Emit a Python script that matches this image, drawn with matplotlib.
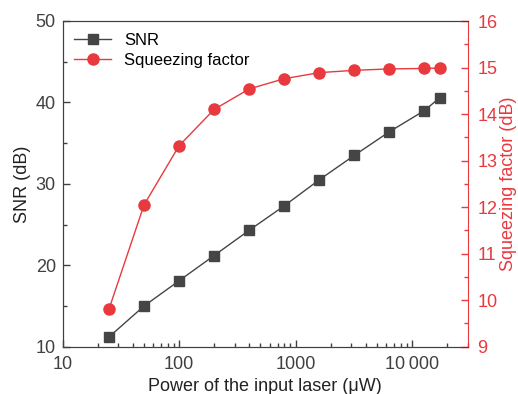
import numpy as np
import matplotlib.pyplot as plt
from matplotlib.ticker import MultipleLocator, LogLocator, NullFormatter, FuncFormatter

plt.rcParams['font.family'] = ['Liberation Sans', 'DejaVu Sans']

power = [25, 50, 100, 200, 400, 800, 1600, 3200, 6400, 12800, 17400]
snr = [11.2, 15.0, 18.1, 21.2, 24.3, 27.3, 30.5, 33.5, 36.4, 39.0, 40.6]
squeeze = [9.81, 12.05, 13.32, 14.10, 14.54, 14.76, 14.89, 14.94, 14.97, 14.98, 14.99]

grey = '#454545'
red = '#e8393e'
txt = '#404040'

fig = plt.figure(figsize=(5.18, 3.94), dpi=100)
ax = fig.add_axes([62.7 / 518, 1 - 346.7 / 394, 404.8 / 518, 325.7 / 394])
ax2 = ax.twinx()

l1, = ax.plot(power, snr, color=grey, marker='s', ms=7, lw=1, label='SNR')
l2, = ax2.plot(power, squeeze, color=red, marker='o', ms=8, lw=1, label='Squeezing factor')

ax.set_xscale('log')
ax.set_xlim(10, 30000)
ax.set_ylim(10, 50)
ax2.set_ylim(9, 16)

ax.yaxis.set_major_locator(MultipleLocator(10))
ax.yaxis.set_minor_locator(MultipleLocator(5))
ax2.yaxis.set_major_locator(MultipleLocator(1))
ax2.yaxis.set_minor_locator(MultipleLocator(0.5))
ax.xaxis.set_major_locator(LogLocator(base=10))
ax.xaxis.set_minor_locator(LogLocator(base=10, subs=np.arange(2, 10)))
ax.xaxis.set_minor_formatter(NullFormatter())
ax.xaxis.set_major_formatter(FuncFormatter(
    lambda v, p: f'{int(v):,}'.replace(',', '\u2009') if v >= 10000 else f'{int(v)}'))

for s in ['left', 'bottom', 'top']:
    ax.spines[s].set_color(txt)
    ax2.spines[s].set_color(txt)
ax2.spines['right'].set_color(red)
ax.spines['right'].set_visible(False)

ax.tick_params(axis='both', which='major', direction='in', length=5, width=1,
               labelsize=13, colors=txt, top=False)
ax.tick_params(axis='x', which='major', pad=7)
ax.tick_params(axis='y', which='major', pad=5)
ax.tick_params(axis='both', which='minor', direction='in', length=3, width=1,
               colors=txt, top=False)
ax2.tick_params(axis='y', which='major', direction='in', length=5, width=1,
                labelsize=13, colors=red, pad=7)
ax2.tick_params(axis='y', which='minor', direction='in', length=3, width=1, colors=red)

ax.set_xlabel('Power of the input laser (μW)', fontsize=13, color='#222222', labelpad=3)
ax.set_ylabel('SNR (dB)', fontsize=13, color='#222222', labelpad=3)
ax2.set_ylabel('Squeezing factor (dB)', fontsize=13, color=red, labelpad=2)

ax.legend([l1, l2], ['SNR', 'Squeezing factor'], loc='upper left', frameon=False,
          fontsize=12, handlelength=2.2, borderaxespad=0.3, labelspacing=0.3)

fig.savefig('out.png', dpi=100)
